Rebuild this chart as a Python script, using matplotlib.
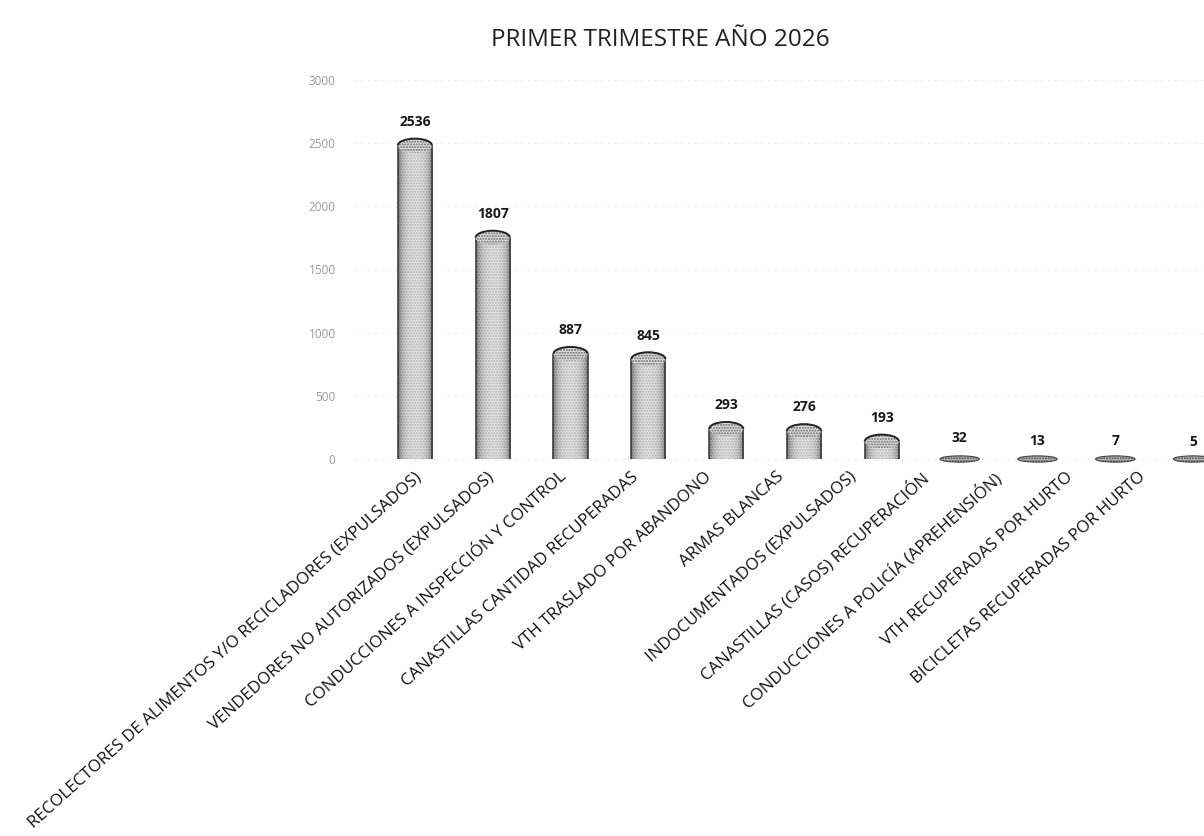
import matplotlib
matplotlib.use('Agg')
import matplotlib.pyplot as plt
from matplotlib.patches import Ellipse, Arc
import numpy as np

titulo = 'PRIMER TRIMESTRE AÑO 2026'
categorias = [
    'RECOLECTORES DE ALIMENTOS Y/O RECICLADORES (EXPULSADOS)',
    'VENDEDORES NO AUTORIZADOS (EXPULSADOS)',
    'CONDUCCIONES A INSPECCIÓN Y CONTROL',
    'CANASTILLAS CANTIDAD RECUPERADAS',
    'VTH TRASLADO POR ABANDONO',
    'ARMAS BLANCAS',
    'INDOCUMENTADOS (EXPULSADOS)',
    'CANASTILLAS (CASOS) RECUPERACIÓN',
    'CONDUCCIONES A POLICÍA (APREHENSIÓN)',
    'VTH RECUPERADAS POR HURTO',
    'BICICLETAS RECUPERADAS POR HURTO',
]
valores = [2536, 1807, 887, 845, 293, 276, 193, 32, 13, 7, 5]
yticks = [0, 500, 1000, 1500, 2000, 2500, 3000]

plt.rcParams['font.family'] = ['Open Sans', 'DejaVu Sans']
plt.rcParams['hatch.linewidth'] = 1.0

W, H = 1204, 836
fig = plt.figure(figsize=(W / 100, H / 100), dpi=100)

x0_px, x1_px = 355, 1204
y0_px, y1_px = 459, 80
ymin, ymax = -60, 3000
scale = (y0_px - y1_px) / 3000.0
ybot_px = y0_px + (0 - ymin) * scale
xmin, xmax = -0.77, 10.14
ax = fig.add_axes([x0_px / W, (H - ybot_px) / H,
                   (x1_px - x0_px) / W, (ybot_px - y1_px) / H])
ax.set_xlim(xmin, xmax)
ax.set_ylim(ymin, ymax)

x = np.arange(len(valores))
ancho = 0.44
cap = 110  # alto de la tapa (cupula) en unidades de datos

# degradado horizontal para simular el cilindro
grad = np.abs(np.linspace(-1, 1, 64)) ** 2.5
grad = np.tile(grad, (2, 1))

for xi, v in zip(x, valores):
    top = max(v - cap / 2, 0)
    if top > 0:
        r = ax.bar(xi, top, width=ancho, bottom=0, color='#dedede', hatch='......',
                   edgecolor='#666666', linewidth=0, zorder=2)[0]
        im = ax.imshow(grad, extent=[xi - ancho / 2, xi + ancho / 2, 0, top],
                       cmap='Greys', vmin=-0.3, vmax=1.5, alpha=0.6,
                       aspect='auto', zorder=2.5)
        im.set_clip_path(r)
        ax.vlines([xi - ancho / 2, xi + ancho / 2], 0, top, color='#333333',
                  lw=1.1, zorder=3)
        e = Ellipse((xi, top), ancho, cap, facecolor='#dedede', hatch='......',
                    edgecolor='#666666', linewidth=0, zorder=3)
        ax.add_patch(e)
        ax.add_patch(Arc((xi, top), ancho, cap, theta1=0, theta2=180,
                         color='#222222', lw=1.4, zorder=4))
    else:
        ax.add_patch(Ellipse((xi, 0), ancho * 1.15, cap * 0.45, facecolor='#bdbdbd',
                             hatch='......', edgecolor='#444444', lw=0.8, zorder=4))
    ax.annotate(str(v), (xi, v), xytext=(0, 7), textcoords='offset points',
                ha='center', va='bottom', fontsize=10, fontweight='bold',
                color='#1a1a1a')

ax.set_yticks(yticks)
ax.set_yticklabels([str(t) for t in yticks], fontsize=8.5, color='#9a9a9a')
ax.tick_params(axis='y', length=0, pad=14)
ax.set_xticks([])
ax.grid(axis='y', linestyle=(0, (1, 7)), color='#c8c8c8', lw=0.6, zorder=0)
for s in ax.spines.values():
    s.set_visible(False)

# category labels sit on a slightly narrower axis (the original has perspective)
step_lab = 72.4
lx0 = 414 - (0 - xmin) * step_lab
lax = fig.add_axes([lx0 / W, (H - 466) / H, step_lab * (xmax - xmin) / W, 0.001])
lax.set_xlim(xmin, xmax)
lax.set_xticks(x)
lax.set_xticklabels(categorias, rotation=42, ha='right', va='top',
                    rotation_mode='anchor', fontsize=12.2, color='#111111')
lax.tick_params(axis='x', length=0, pad=2)
lax.set_yticks([])
lax.patch.set_visible(False)
for s in lax.spines.values():
    s.set_visible(False)

fig.text(660 / W, 1 - 40 / H, titulo, ha='center', va='center', fontsize=17.5,
         color='#222222')

fig.savefig('out.png', dpi=100)
